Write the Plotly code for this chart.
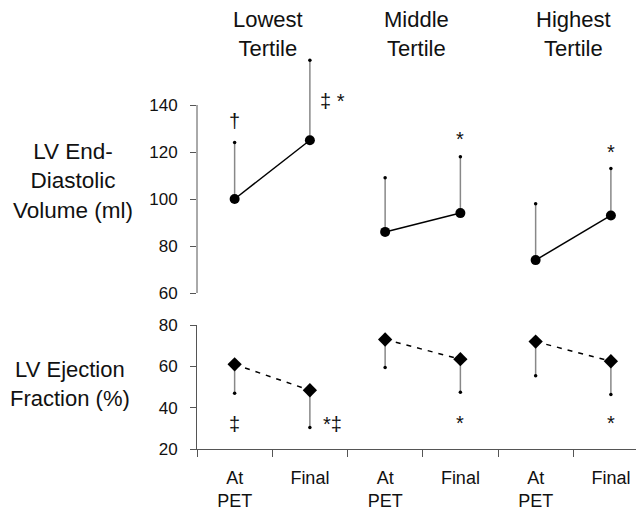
import plotly.graph_objects as go

# ---- data ----
groups = ["Lowest<br>Tertile", "Middle<br>Tertile", "Highest<br>Tertile"]
group_title_x = [0.45, 2.42, 4.5]
time_labels = ["At<br>PET", "Final", "At<br>PET", "Final", "At<br>PET", "Final"]
xpos = [0, 1, 2, 3, 4, 5]

edv_mean = [100, 125, 86, 94, 74, 93]
edv_err_up = [24, 34, 23, 24, 24, 20]

ef_mean = [61, 48.5, 73, 63.5, 72, 62.5]
ef_err_down = [14, 18, 13.5, 16, 16.5, 16]

edv_ticks = [60, 80, 100, 120, 140]
ef_ticks = [20, 40, 60, 80]

edv_marks = [(0, "†"), (1.3, "‡ *"), (3, "*"), (5, "*")]
edv_mark_y = [133.4, 141.6, 125.5, 120.1]
ef_marks = [(0, "‡"), (1.3, "*‡"), (3, "*"), (5, "*")]
ef_mark_y = [32.4, 32.4, 32.9, 32.9]

FONT = "Arial, 'Liberation Sans', sans-serif"
OFF = 8  # page body margin
W, H = 644 - OFF, 512 - OFF
AXC = "#555555"
ERRC = "#888888"
TXT = "#111111"

def px(x):
    return (x - OFF) / W

def py(y):
    return 1 - (y - OFF) / H

fig = go.Figure()

# top panel: EDV
for g in range(3):
    i0, i1 = 2 * g, 2 * g + 1
    fig.add_trace(go.Scatter(
        x=[xpos[i0], xpos[i1]], y=[edv_mean[i0], edv_mean[i1]],
        mode="lines+markers", xaxis="x2", yaxis="y2",
        line=dict(color="black", width=1.5),
        marker=dict(symbol="circle", size=10, color="black"),
        error_y=dict(type="data", symmetric=False,
                     array=[edv_err_up[i0], edv_err_up[i1]],
                     arrayminus=[0, 0], width=0, thickness=1.5, color=ERRC),
        showlegend=False, hoverinfo="skip"))
fig.add_trace(go.Scatter(
    x=xpos, y=[m + e for m, e in zip(edv_mean, edv_err_up)],
    mode="markers", xaxis="x2", yaxis="y2",
    marker=dict(size=3.5, color="black"), showlegend=False, hoverinfo="skip"))

# bottom panel: EF
for g in range(3):
    i0, i1 = 2 * g, 2 * g + 1
    fig.add_trace(go.Scatter(
        x=[xpos[i0], xpos[i1]], y=[ef_mean[i0], ef_mean[i1]],
        mode="lines+markers", xaxis="x", yaxis="y",
        line=dict(color="black", width=1.5, dash="5px,6px"),
        marker=dict(symbol="diamond", size=11, color="black"),
        error_y=dict(type="data", symmetric=False,
                     array=[0, 0],
                     arrayminus=[ef_err_down[i0], ef_err_down[i1]],
                     width=0, thickness=1.5, color=ERRC),
        showlegend=False, hoverinfo="skip"))
fig.add_trace(go.Scatter(
    x=xpos, y=[m - e for m, e in zip(ef_mean, ef_err_down)],
    mode="markers", xaxis="x", yaxis="y",
    marker=dict(size=3.5, color="black"), showlegend=False, hoverinfo="skip"))

xdom = [px(197), 1.0]
xrange = [-0.5, 5.44]

fig.update_layout(
    width=W, height=H,
    margin=dict(l=0, r=0, t=0, b=0, autoexpand=False),
    paper_bgcolor="white", plot_bgcolor="white",
    font=dict(family=FONT, color=TXT),
    xaxis=dict(domain=xdom, range=xrange, showgrid=False, zeroline=False,
               automargin=False,
               showline=True, linecolor=AXC, linewidth=1,
               tickmode="array", tickvals=xpos, ticktext=time_labels,
               ticks="", tickfont=dict(size=18, family=FONT, color=TXT),
               ticklabelstandoff=12,
               minor=dict(tickmode="array", tickvals=[-0.5, 0.5, 1.5, 2.5, 3.5, 4.5, 5.5],
                          ticks="outside", ticklen=7, tickcolor=AXC, tickwidth=1)),
    yaxis=dict(domain=[py(449.3), py(325)], range=[20, 80], anchor="x",
               automargin=False,
               showgrid=False, zeroline=False, showline=True, linecolor=AXC,
               linewidth=1, tickmode="array", tickvals=ef_ticks, ticks="outside",
               ticklen=6, tickcolor=AXC, ticklabelstandoff=9,
               tickfont=dict(size=17, family=FONT, color=TXT)),
    xaxis2=dict(domain=xdom, range=xrange, anchor="y2", visible=False, matches="x",
                automargin=False),
    yaxis2=dict(domain=[py(293), py(58)], range=[60, 160], anchor="x2",
                automargin=False,
                showgrid=False, zeroline=False, showline=False,
                tickmode="array", tickvals=edv_ticks, ticks="outside",
                ticklen=6, tickcolor=AXC, ticklabelstandoff=9,
                tickfont=dict(size=17, family=FONT, color=TXT)),
)

# top y-axis line only from 60 to 140
fig.add_shape(type="line", xref="x2 domain", yref="y2", x0=0, x1=0,
              y0=edv_ticks[0], y1=edv_ticks[-1], line=dict(color=AXC, width=1))

# group titles
for gx, txt in zip(group_title_x, groups):
    fig.add_annotation(x=gx, y=py(33.5), xref="x2", yref="paper",
                       text=txt, showarrow=False, font=dict(size=22, family=FONT, color=TXT),
                       xanchor="center", yanchor="middle")

# y-axis titles
fig.add_annotation(x=px(73), y=py(181), xref="paper", yref="paper",
                   text="LV End-<br>Diastolic<br>Volume (ml)", showarrow=False,
                   xanchor="center", yanchor="middle",
                   font=dict(size=22.5, family=FONT, color=TXT))
fig.add_annotation(x=px(70), y=py(384), xref="paper", yref="paper",
                   text="LV Ejection<br>Fraction (%)", showarrow=False,
                   xanchor="center", yanchor="middle",
                   font=dict(size=22, family=FONT, color=TXT))

# significance marks
for (xv, t), yv in zip(edv_marks, edv_mark_y):
    fig.add_annotation(x=xv, y=yv, xref="x2", yref="y2", text=t, showarrow=False,
                       xanchor="center", yanchor="middle",
                       font=dict(size=20, family=FONT, color=TXT))
for (xv, t), yv in zip(ef_marks, ef_mark_y):
    fig.add_annotation(x=xv, y=yv, xref="x", yref="y", text=t, showarrow=False,
                       xanchor="center", yanchor="middle",
                       font=dict(size=20, family=FONT, color=TXT))

fig.write_html("out.html")
